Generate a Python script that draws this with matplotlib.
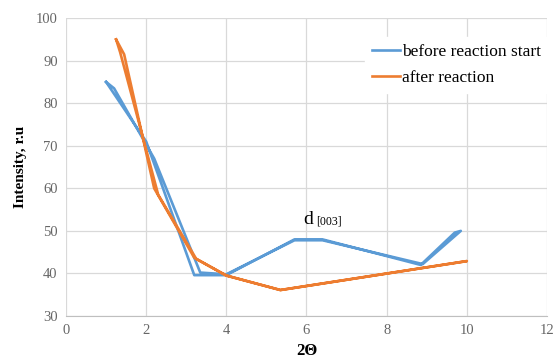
import matplotlib.pyplot as plt

# traced series: each line goes out and back, so the curve looks doubled
before_x = [1.0, 2.0, 3.2, 4.0, 5.7, 6.4, 8.85, 9.7,
            9.85, 8.9, 6.4, 5.7, 4.0, 3.35, 2.2, 1.2, 1.0]
before_y = [85.0, 71.0, 39.6, 39.6, 48.0, 48.0, 42.0, 49.6,
            50.0, 42.2, 47.8, 47.8, 39.8, 40.2, 67.0, 83.5, 85.0]

after_x = [1.25, 1.45, 2.2, 3.2, 4.0, 5.35, 10.0,
           5.35, 4.0, 3.25, 2.3, 1.35, 1.25]
after_y = [95.0, 91.5, 60.0, 43.7, 39.5, 36.1, 42.9,
           36.1, 39.5, 43.4, 58.5, 92.0, 95.0]

plt.rcParams['font.family'] = ['Liberation Serif', 'DejaVu Serif']

fig = plt.figure(figsize=(5.57, 3.63), dpi=100)
ax = fig.add_axes([0.1185, 0.1295, 0.8635, 0.8205])

ax.plot(before_x, before_y, color='#5B9BD5', lw=1.9, label='before reaction start')
ax.plot(after_x, after_y, color='#ED7D31', lw=1.9, label='after reaction')

ax.set_xlim(0, 12)
ax.set_ylim(30, 100)
ax.set_xticks(range(0, 13, 2))
ax.set_yticks(range(30, 101, 10))
ax.grid(True, color='#D9D9D9', lw=0.9)
ax.set_axisbelow(True)
for s in ['top', 'right', 'left']:
    ax.spines[s].set_visible(False)
ax.spines['bottom'].set_color('#BFBFBF')
ax.tick_params(length=0, colors='#666666', labelsize=10.5, pad=6)

ax.set_xlabel('2\u0398', fontsize=12, fontweight='bold', labelpad=4)
ax.set_ylabel('Intensity, r.u', fontsize=11, fontweight='bold', labelpad=6)

ax.text(5.92, 51.7, 'd', fontsize=14, color='black')
ax.text(6.25, 51.4, '[003]', fontsize=8.5, color='black')

leg = ax.legend(loc='upper right', bbox_to_anchor=(1.012, 0.955), frameon=True,
                fancybox=False, edgecolor='white', framealpha=1, fontsize=12.5,
                handlelength=1.6, handletextpad=0.1, borderaxespad=0.3,
                labelspacing=0.6)

fig.savefig('out.png', dpi=100)
